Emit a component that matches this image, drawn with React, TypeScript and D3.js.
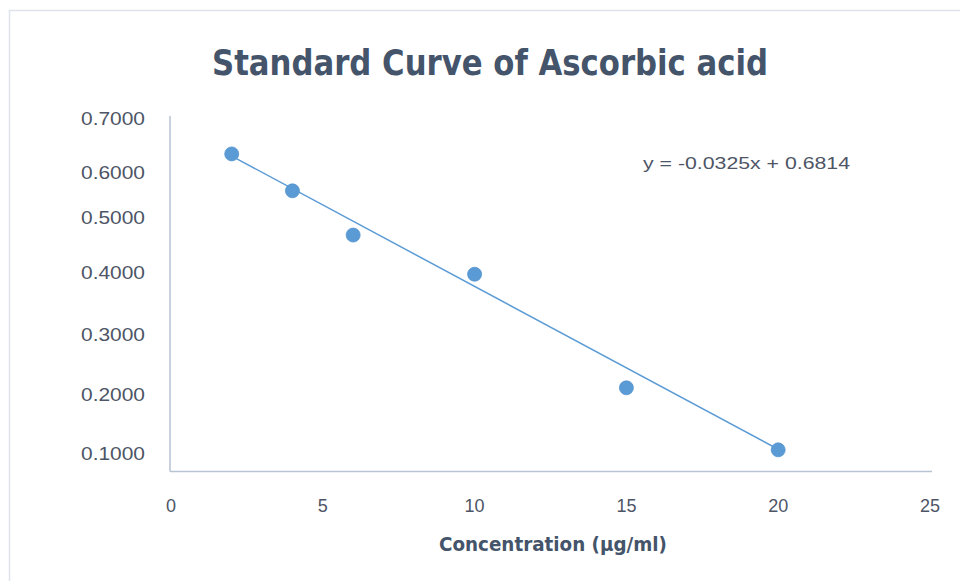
import React from 'react';
import * as d3 from 'd3';

// ---- data ----
const concentration = [2, 4, 6, 10, 15, 20];
const absorbance = [0.635, 0.56, 0.469, 0.398, 0.212, 0.107];
const trendX = [2, 20];
const trendY = [0.631, 0.108];
const xTicks = [0, 5, 10, 15, 20, 25];
const yTicks = [0.1, 0.2, 0.3, 0.4, 0.5, 0.6, 0.7];
const chartTitle = 'Standard  Curve of Ascorbic acid';
const xTitle = 'Concentration  (µg/ml)';
const equation = 'y = -0.0325x + 0.6814';

// ---- layout ----
const W = 960;
const H = 581;
const plotLeft = 170;
const plotRight = 932;
const plotBottom = 471.5;
const plotTop = 116;
// the reference axis is unevenly spaced; mapped piecewise
const yDomain = [0.07, 0.1, 0.2, 0.3, 0.4, 0.5, 0.6, 0.7, 0.706];
const yRange = [471.5, 454, 395, 335, 273, 218, 172.7, 119, 116];

const x = d3.scaleLinear().domain([0, 25]).range([171, 930]);
const y = d3.scaleLinear().domain(yDomain).range(yRange);

const axisColor = '#b7c2d3';
const textColor = '#4d5566';
const titleColor = '#44546a';
const blue = '#5b9bd5';

export default function App() {
  const pts = concentration.map((c, i) => [c, absorbance[i]] as [number, number]);
  const trend = trendX.map((c, i) => [c, trendY[i]] as [number, number]);
  const line = d3
    .line<[number, number]>()
    .x((d) => x(d[0]))
    .y((d) => y(d[1]));
  const font = 'Liberation Sans, Arial, sans-serif';
  const boldFont = '"DejaVu Sans Condensed", "Liberation Sans Narrow", "DejaVu Sans", sans-serif';
  return (
    <svg
      width={W}
      height={H}
      style={{ position: 'absolute', left: 0, top: 0, background: '#fff' }}
    >
      <rect x={9.5} y={10.5} width={W} height={H} fill="#fff" stroke="#dfe4ec" strokeWidth={1.5} />
      <text
        x={490}
        y={75}
        textAnchor="middle"
        fontFamily={boldFont}
        fontWeight="bold"
        fontSize={35}
        fill={titleColor}
        textLength={556}
        lengthAdjust="spacingAndGlyphs"
      >
        {chartTitle}
      </text>
      {/* axes */}
      <line x1={plotLeft} x2={plotLeft} y1={plotTop} y2={plotBottom} stroke={axisColor} strokeWidth={1.5} />
      <line x1={plotLeft} x2={plotRight} y1={plotBottom} y2={plotBottom} stroke={axisColor} strokeWidth={1.5} />
      {yTicks.map((t) => (
        <text
          key={t}
          x={145}
          y={y(t)}
          textAnchor="end"
          dominantBaseline="central"
          fontFamily={font}
          fontSize={18}
          fill={textColor}
          textLength={64}
          lengthAdjust="spacingAndGlyphs"
        >
          {d3.format('.4f')(t)}
        </text>
      ))}
      {xTicks.map((t) => (
        <text
          key={t}
          x={x(t)}
          y={506}
          textAnchor="middle"
          dominantBaseline="central"
          fontFamily={font}
          fontSize={18}
          fill={textColor}
        >
          {t}
        </text>
      ))}
      <text
        x={553}
        y={551}
        textAnchor="middle"
        fontFamily={boldFont}
        fontWeight="bold"
        fontSize={19}
        fill={titleColor}
        textLength={228}
        lengthAdjust="spacingAndGlyphs"
      >
        {xTitle}
      </text>
      <path d={line(trend) || ''} fill="none" stroke={blue} strokeWidth={1.5} />
      {pts.map((p, i) => (
        <circle key={i} cx={x(p[0])} cy={y(p[1])} r={7} fill={blue} stroke="#4f90cc" strokeWidth={0.75} />
      ))}
      <text
        x={643}
        y={163}
        dominantBaseline="central"
        fontFamily={font}
        fontSize={17}
        fill={textColor}
        textLength={207}
        lengthAdjust="spacingAndGlyphs"
      >
        {equation}
      </text>
    </svg>
  );
}
